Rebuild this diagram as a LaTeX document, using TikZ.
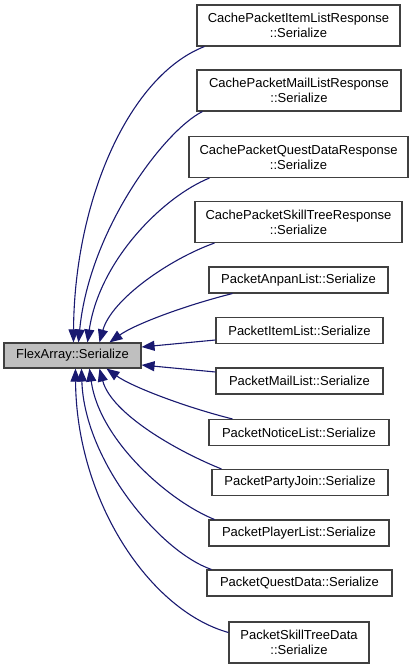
\documentclass[tikz,border=0pt]{standalone}
\usepackage{fontspec}
\setmainfont{Liberation Sans}
\usetikzlibrary{arrows.meta,calc}
\definecolor{edgeblue}{HTML}{191970}
\definecolor{boxline}{HTML}{404040}
\definecolor{boxfill}{HTML}{BFBFBF}
\begin{document}
\begin{tikzpicture}[x=1pt,y=-1pt,
  box/.style={draw=boxline,line width=1.1pt,fill=white,inner sep=0pt,align=center,
    font=\fontsize{13}{15}\selectfont,minimum height=26pt},
  twobox/.style={box,minimum height=41pt},
  edge/.style={draw=edgeblue,line width=1.1pt,-{Triangle[length=13pt,width=10pt]},fill=none},
]
\useasboundingbox (0,0) rectangle (415,669);
% main node
\node[box,fill=boxfill,minimum width=137pt,minimum height=25pt] (fa) at (72.5,355.5) {FlexArray::Serialize};
% right column
\node[twobox,minimum width=203pt] (n1) at (298.5,25.5) {CachePacketItemListResponse\\::Serialize};
\node[twobox,minimum width=204pt] (n2) at (299,90.5) {CachePacketMailListResponse\\::Serialize};
\node[twobox,minimum width=219pt] (n3) at (298.5,157) {CachePacketQuestDataResponse\\::Serialize};
\node[twobox,minimum width=207pt] (n4) at (298.5,222) {CachePacketSkillTreeResponse\\::Serialize};
\node[box,minimum width=179pt] (n5) at (298.5,280) {PacketAnpanList::Serialize};
\node[box,minimum width=167pt] (n6) at (299.5,330.5) {PacketItemList::Serialize};
\node[box,minimum width=167pt] (n7) at (299.5,381) {PacketMailList::Serialize};
\node[box,minimum width=180pt] (n8) at (299,432.5) {PacketNoticeList::Serialize};
\node[box,minimum width=176pt] (n9) at (300,482.5) {PacketPartyJoin::Serialize};
\node[box,minimum width=180pt] (n10) at (299,533) {PacketPlayerList::Serialize};
\node[box,minimum width=185pt] (n11) at (299.5,583) {PacketQuestData::Serialize};
\node[twobox,minimum width=140pt] (n12) at (299,642.5) {PacketSkillTreeData\\::Serialize};
% edge end points
\coordinate (s1) at ($(n1.south west)+(8,0)$);
\coordinate (s2) at ($(n2.south west)+(6,0)$);
\coordinate (s3) at ($(n3.south west)+(21,0)$);
\coordinate (s4) at ($(n4.south west)+(20,0)$);
\coordinate (s5) at ($(n5.south west)+(24,0)$);
\coordinate (s6) at ($(n6.west)+(0,9.5)$);
\coordinate (s7) at ($(n7.west)+(0,-9)$);
\coordinate (s8) at ($(n8.north west)+(24,0)$);
\coordinate (s9) at ($(n9.north west)+(10,0)$);
\coordinate (s10) at ($(n10.north west)+(6,0)$);
\coordinate (s11) at ($(n11.north west)+(5,0)$);
\coordinate (s12) at ($(n12.west)+(0,-10)$);
\coordinate (t1) at ($(fa.north west)+(70,0)$);
\coordinate (t2) at ($(fa.north west)+(75,0)$);
\coordinate (t3) at ($(fa.north west)+(84,0)$);
\coordinate (t4) at ($(fa.north west)+(96,0)$);
\coordinate (t5) at ($(fa.north west)+(106,0)$);
\coordinate (t6) at ($(fa.east)+(0,-8.5)$);
\coordinate (t7) at ($(fa.east)+(0,9.5)$);
\coordinate (t8) at ($(fa.south west)+(103,0)$);
\coordinate (t9) at ($(fa.south west)+(96,0)$);
\coordinate (t10) at ($(fa.south west)+(86,0)$);
\coordinate (t11) at ($(fa.south west)+(78,0)$);
\coordinate (t12) at ($(fa.south west)+(72,0)$);
% edges
\draw[edge] (s1) .. controls +(-75,29) and +(1,-143) .. (t1);
\draw[edge] (s2) .. controls +(-38,19) and +(11,-113) .. (t2);
\draw[edge] (s3) .. controls +(-45,18) and +(12,-83) .. (t3);
\draw[edge] (s4) .. controls +(-45,16) and +(12,-43) .. (t4);
\draw[edge] (s5) .. controls +(-48,12) and +(25,-18) .. (t5);
\draw[edge] (s6) -- (t6);
\draw[edge] (s7) -- (t7);
\draw[edge] (s8) .. controls +(-48,-12) and +(25,18) .. (t8);
\draw[edge] (s9) .. controls +(-45,-18) and +(12,45) .. (t9);
\draw[edge] (s10) .. controls +(-45,-18) and +(10,72) .. (t10);
\draw[edge] (s11) .. controls +(-52,-18) and +(3,92) .. (t11);
\draw[edge] (s12) .. controls +(-79,-22) and +(1,132) .. (t12);
\end{tikzpicture}
\end{document}
